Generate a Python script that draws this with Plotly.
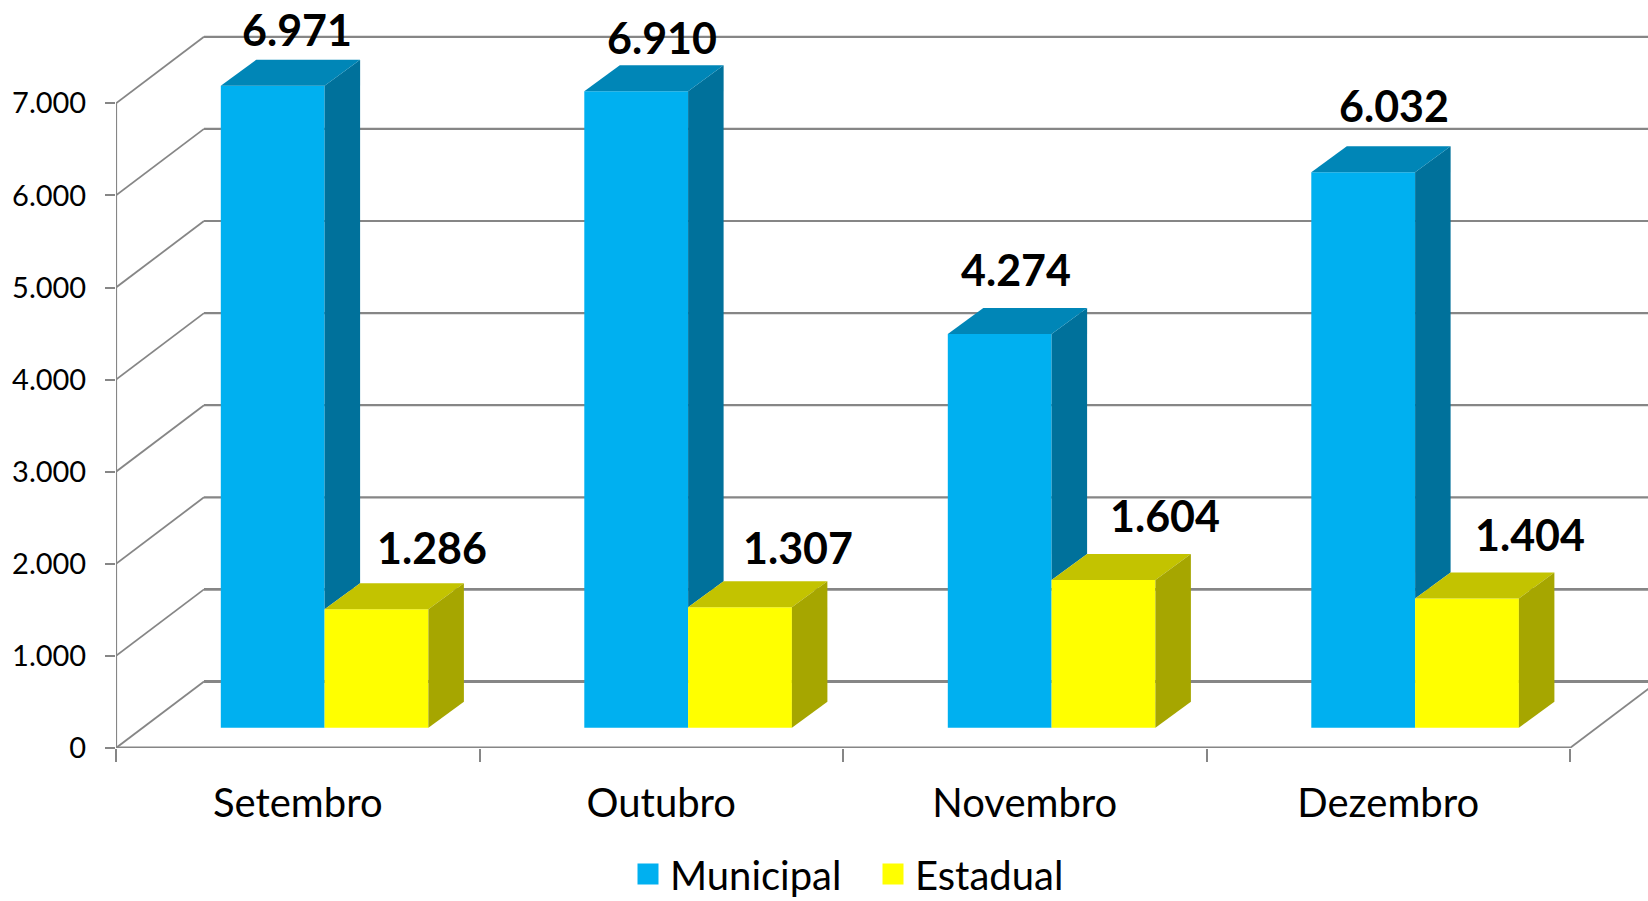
import plotly.graph_objects as go

categories = ["Setembro", "Outubro", "Novembro", "Dezembro"]
municipal = [6971, 6910, 4274, 6032]
estadual = [1286, 1307, 1604, 1404]
y_ticks = [0, 1000, 2000, 3000, 4000, 5000, 6000, 7000]

FONT = "Lato"
GRID = "#868686"
W, H = 1648, 901
ML, MB = 116, 153
SLOT_PX = 363.5
PX_PER_UNIT = 0.0921

WALL_DX, WALL_DY = 88 / SLOT_PX, 66.5 / PX_PER_UNIT
BAR_DX, BAR_DY = 35.5 / SLOT_PX, 26 / PX_PER_UNIT
FLOOR = 20.3 / PX_PER_UNIT
BAR_W = 103.8 / SLOT_PX
BAR_START = 104.8 / SLOT_PX

fmt = lambda v: f"{v:,}".replace(",", ".")

fig = go.Figure()
n = len(categories)
x_m = [i + BAR_START + BAR_W / 2 for i in range(n)]
x_e = [i + BAR_START + BAR_W * 1.5 for i in range(n)]


def poly(xs, ys, color):
    fig.add_trace(go.Scatter(x=xs, y=ys, mode="lines", fill="toself", fillcolor=color,
                             line=dict(width=0, color=color), showlegend=False, hoverinfo="skip"))


fig.add_trace(go.Bar(x=x_m, y=municipal, base=FLOOR, width=BAR_W, name="Municipal",
                     marker=dict(color="#00B0F0", line=dict(width=0)), showlegend=False))
fig.add_trace(go.Bar(x=x_e, y=estadual, base=FLOOR, width=BAR_W, name="Estadual",
                     marker=dict(color="#FFFF00", line=dict(width=0)), showlegend=False))

for i in range(n):
    l, r = x_m[i] - BAR_W / 2, x_m[i] + BAR_W / 2
    top, low = FLOOR + municipal[i], FLOOR + estadual[i]
    poly([r, r + BAR_DX, r + BAR_DX, r], [top, top + BAR_DY, low + BAR_DY, low], "#00719B")
    poly([l, l + BAR_DX, r + BAR_DX, r], [top, top + BAR_DY, top + BAR_DY, top], "#0086B7")
    l2, r2 = r, r + BAR_W
    poly([l2, l2 + BAR_DX, r2 + BAR_DX, r2], [low, low + BAR_DY, low + BAR_DY, low], "#C3C300")
    poly([r2, r2 + BAR_DX, r2 + BAR_DX, r2], [low, low + BAR_DY, FLOOR + BAR_DY, FLOOR], "#A6A600")

for name, color in [("Municipal", "#00B0F0"), ("Estadual", "#FFFF00")]:
    fig.add_trace(go.Scatter(x=[None], y=[None], mode="markers", name=name,
                             marker=dict(symbol="square", size=16, color=color,
                                         line=dict(width=5, color=color))))

shapes = []


def seg(x0, y0, x1, y1, w=2):
    shapes.append(dict(type="line", xref="x", yref="y", x0=x0, y0=y0, x1=x1, y1=y1,
                       layer="below", line=dict(color=GRID, width=w)))


for v in y_ticks:
    seg(0, v, WALL_DX, v + WALL_DY, 1.8)
    seg(WALL_DX, v + WALL_DY, n + WALL_DX, v + WALL_DY, 2.8 if v < 2000 else 2.2)
seg(n, 0, n + WALL_DX, WALL_DY, 1.8)
seg(0, 0, n, 0, 2.8)
seg(0, 0, 0, max(y_ticks), 2.2)

annotations = []
label_shift_m = [(24, 56), (26, 54), (16, 65), (31, 67)]
label_shift_e = [(55, 62), (58, 60), (61, 64), (63, 64)]
for xs, vals, shifts in [(x_m, municipal, label_shift_m), (x_e, estadual, label_shift_e)]:
    for x, v, (sx, sy) in zip(xs, vals, shifts):
        annotations.append(dict(x=x, y=FLOOR + v, xref="x", yref="y", text=f"<b>{fmt(v)}</b>",
                                showarrow=False, xanchor="center", yanchor="middle",
                                xshift=sx, yshift=sy,
                                font=dict(family=FONT, size=43, color="#000000")))

fig.update_layout(
    width=W, height=H, margin=dict(l=ML, r=0, t=0, b=MB, pad=0),
    paper_bgcolor="white", plot_bgcolor="white", barmode="overlay",
    shapes=shapes, annotations=annotations,
    font=dict(family=FONT, color="#000000"),
    legend=dict(orientation="h", x=626 / W, y=0.03, xref="container", yref="container",
                xanchor="left", yanchor="middle", font=dict(family=FONT, size=40),
                itemwidth=34, entrywidth=196, entrywidthmode="pixels",
                bgcolor="rgba(0,0,0,0)", itemclick=False, itemdoubleclick=False),
    xaxis=dict(range=[0, (W - ML) / SLOT_PX], showgrid=False, zeroline=False, showline=False,
               tickmode="array", tickvals=[i + 0.5 for i in range(n)], ticktext=categories,
               ticks="", ticklabelstandoff=28, tickfont=dict(family=FONT, size=40, color="#000000"),
               minor=dict(tickmode="array", tickvals=list(range(n + 1)), ticks="outside",
                          ticklen=13, tickwidth=2, tickcolor=GRID)),
    yaxis=dict(range=[0, (H - MB) / PX_PER_UNIT], showgrid=False, zeroline=False, showline=False,
               tickmode="array", tickvals=y_ticks, ticktext=[fmt(v) for v in y_ticks],
               ticks="outside", ticklen=10, tickwidth=2, tickcolor=GRID, ticklabelstandoff=13,
               tickfont=dict(family=FONT, size=29, color="#000000")),
)

fig.write_html("out.html", config=dict(displayModeBar=False),
               post_script="document.body.style.margin='0';document.documentElement.style.overflow='hidden';")
